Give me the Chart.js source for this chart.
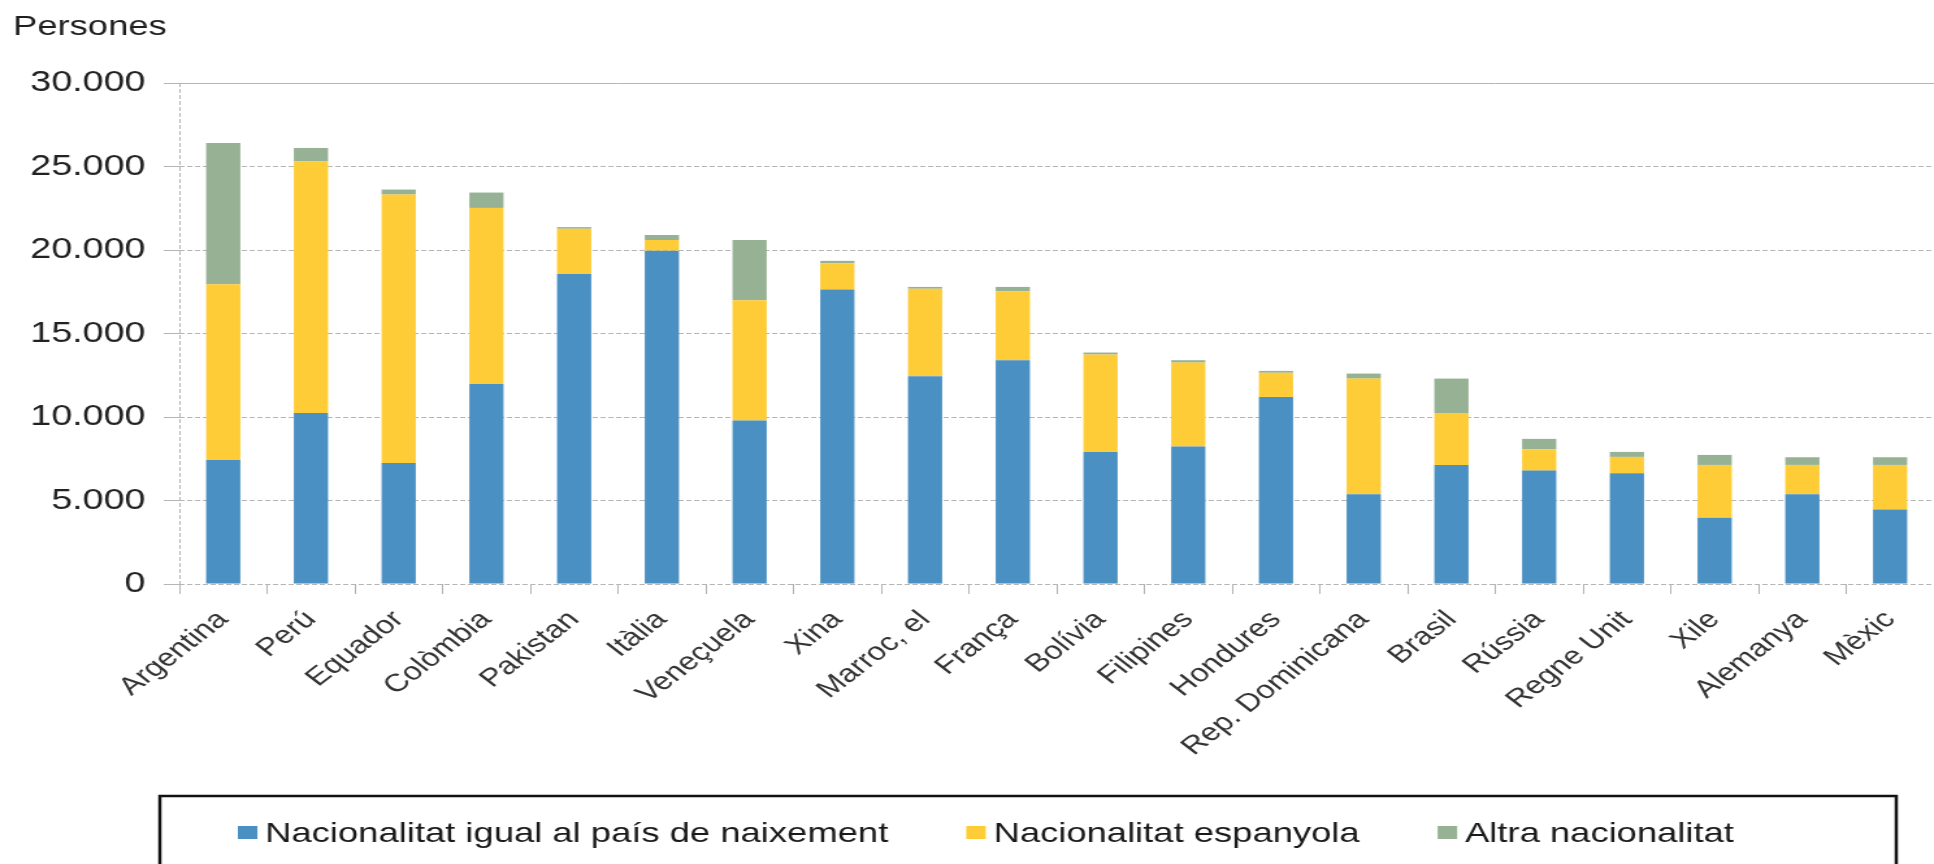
<!DOCTYPE html>
<html>
<head>
<meta charset="utf-8">
<script src="https://cdn.jsdelivr.net/npm/chart.js@4.4.1/dist/chart.umd.min.js"></script>
<style>
  body { margin: 0; background: #fff; overflow: hidden; }
  /* the original picture is stretched sideways, so the chart is drawn narrow and widened */
  #wrap { width: 1488px; height: 864px; transform: scaleX(1.2997); transform-origin: 0 0; }
</style>
</head>
<body>
<div id="wrap"><canvas id="chart0" width="1488" height="864"></canvas></div>
<script>
const countries = ['Argentina', 'Perú', 'Equador', 'Colòmbia', 'Pakistan', 'Itàlia', 'Veneçuela', 'Xina',
	'Marroc, el', 'França', 'Bolívia', 'Filipines', 'Hondures', 'Rep. Dominicana', 'Brasil', 'Rússia',
	'Regne Unit', 'Xile', 'Alemanya', 'Mèxic'];

const sameNationality = [7430, 10240, 7250, 11980, 18570, 19960, 9790, 17630, 12440, 13400,
	7910, 8230, 11200, 5370, 7130, 6790, 6630, 3960, 5370, 4460];
const spanishNationality = [10520, 15070, 16070, 10540, 2700, 640, 7200, 1580, 5240, 4120,
	5830, 5030, 1450, 6930, 3110, 1280, 980, 3170, 1760, 2670];
const otherNationality = [8460, 800, 300, 920, 100, 300, 3610, 140, 110, 270,
	120, 140, 110, 300, 2060, 620, 300, 600, 460, 460];

const seriesNames = ['Nacionalitat igual al país de naixement', 'Nacionalitat espanyola', 'Altra nacionalitat'];
const yTicks = [0, 5000, 10000, 15000, 20000, 25000, 30000];
const yTitle = 'Persones';

const font = '"Liberation Sans", Arial, sans-serif';

function thousands(v) {
	return String(v).replace(/\B(?=(\d{3})+(?!\d))/g, '.');
}

// title above the axis and the framed legend at the bottom
const extras = {
	id: 'extras',
	afterDraw(chart) {
		var ctx = chart.ctx;
		ctx.save();
		ctx.font = '28px ' + font;
		ctx.fillStyle = '#1e1e1e';
		ctx.textBaseline = 'alphabetic';
		ctx.fillText(yTitle, 10, 35);

		ctx.strokeStyle = '#111';
		ctx.lineWidth = 2.5;
		ctx.strokeRect(123, 796, 1336, 90);

		ctx.font = '28px ' + font;
		var x = 183;
		chart.data.datasets.forEach(function (ds) {
			ctx.fillStyle = ds.backgroundColor;
			ctx.fillRect(x, 826, 15, 13);
			x += 21;
			ctx.fillStyle = '#1a1a1a';
			ctx.fillText(ds.label, x, 842);
			x += ctx.measureText(ds.label).width + 60;
		});
		ctx.restore();
	}
};

new Chart('chart0', {
	type: 'bar',
	data: {
		labels: countries,
		datasets: [
			{ label: seriesNames[0], data: sameNationality, backgroundColor: '#4a90c2' },
			{ label: seriesNames[1], data: spanishNationality, backgroundColor: '#fecc36' },
			{ label: seriesNames[2], data: otherNationality, backgroundColor: '#96b194' }
		]
	},
	options: {
		responsive: false,
		animation: false,
		layout: { padding: { top: 83, left: 0, right: 0, bottom: 0 } },
		datasets: { bar: { barPercentage: 0.39, categoryPercentage: 1, borderWidth: 0 } },
		plugins: { legend: { display: false }, tooltip: { enabled: false } },
		scales: {
			x: {
				stacked: true,
				grid: {
					offset: true,
					color: c => c.index === 0 ? '#b0b0b0' : 'rgba(0,0,0,0)',
					tickColor: '#b0b0b0',
					tickLength: 10
				},
				border: { display: false, dash: [4, 2] },
				ticks: {
					autoSkip: false,
					minRotation: 45,
					maxRotation: 45,
					padding: 11,
					color: '#333',
					font: { family: font, size: 25 }
				},
				afterFit: s => { s.height = 280; }
			},
			y: {
				stacked: true,
				min: 0,
				max: 30000,
				afterBuildTicks: s => { s.ticks = yTicks.map(v => ({ value: v })); },
				grid: { color: '#b5b5b5', tickColor: '#b5b5b5', tickLength: 12 },
				border: { display: false, dash: c => c.tick && c.tick.value === 30000 ? [] : [4, 2] },
				ticks: {
					padding: 14,
					color: '#222',
					font: { family: font, size: 29 },
					callback: v => thousands(v)
				},
				afterFit: s => { s.width = 138; }
			}
		}
	},
	plugins: [extras]
});
</script>
</body>
</html>
